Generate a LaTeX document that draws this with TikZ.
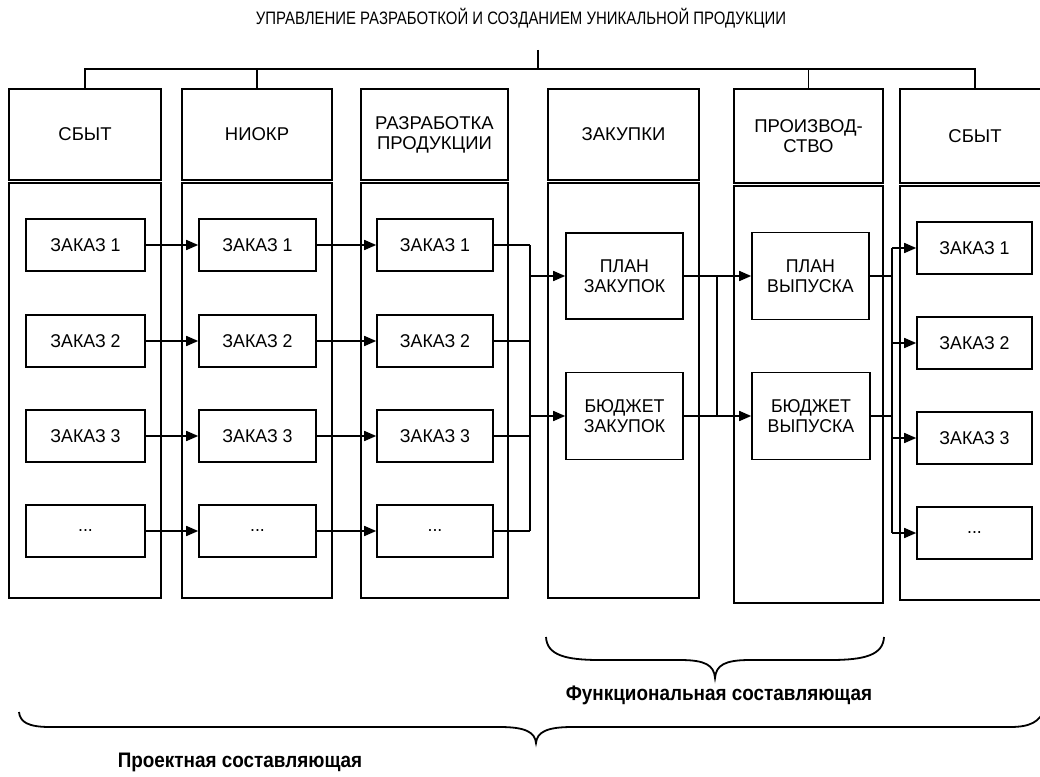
\documentclass[tikz,border=0pt]{standalone}
\usepackage{fontspec}
\setmainfont{Liberation Sans}
\newfontfamily\titlefont[FakeStretch=0.83]{Liberation Sans}
\newfontfamily\boxfont[FakeStretch=0.96]{Liberation Sans}
\newfontfamily\labfont[FakeStretch=0.9]{Liberation Sans}
\usetikzlibrary{arrows.meta}
\newcommand\mydots{...}
\begin{document}
\begin{tikzpicture}[x=1pt,y=-1pt,
  ln/.style={line width=1.6pt},
  colbox/.style={draw, line width=1.6pt, inner sep=0pt, align=center,
    font=\fontsize{18.5}{20}\selectfont},
  box/.style={draw, line width=1.6pt, inner sep=0pt, align=center,
    font=\boxfont\fontsize{18.5}{20}\selectfont},
  arr/.style={line width=1.6pt, -{Triangle[length=12pt,width=10pt]}},
  brace/.style={line width=1.8pt},
  lab/.style={font=\labfont\bfseries\fontsize{21}{22}\selectfont}]
\clip (0,0) rectangle (1040,776);
\fill[white] (0,0) rectangle (1040,776);

% title and bus
\node[font=\titlefont\fontsize{18}{20}\selectfont] (title) at (521,18)
  {УПРАВЛЕНИЕ РАЗРАБОТКОЙ И СОЗДАНИЕМ УНИКАЛЬНОЙ ПРОДУКЦИИ};

% column headers
\node[colbox, minimum width=152, minimum height=91] (h1) at (85,134.5) {СБЫТ};
\node[colbox, minimum width=150, minimum height=91] (h2) at (257,134.5) {НИОКР};
\node[colbox, minimum width=147, minimum height=91] (h3) at (434.5,134.5) {РАЗРАБОТКА\\ПРОДУКЦИИ};
\node[colbox, minimum width=151, minimum height=91] (h4) at (623.5,134.5) {ЗАКУПКИ};
\node[colbox, minimum width=149, minimum height=94] (h5) at (808.5,136) {ПРОИЗВОД-\\СТВО};
\node[colbox, minimum width=150, minimum height=94] (h6) at (975,136) {СБЫТ};

% column bodies
\node[colbox, minimum width=152, minimum height=415] (b1) at (85,390.5) {};
\node[colbox, minimum width=150, minimum height=415] (b2) at (257,390.5) {};
\node[colbox, minimum width=147, minimum height=415] (b3) at (434.5,390.5) {};
\node[colbox, minimum width=151, minimum height=415] (b4) at (623.5,390.5) {};
\node[colbox, minimum width=149, minimum height=417] (b5) at (808.5,394.5) {};
\node[colbox, minimum width=150, minimum height=414] (b6) at (975,393) {};

% bus
\coordinate (top) at (538,50);
\coordinate (bus) at (538,69);
\draw[ln] (top) -- (bus);
\draw[ln] (h1.north) -- (h1.north |- bus) -- (h6.north |- bus) -- (h6.north);
\draw[ln] (h2.north) -- (h2.north |- bus);
\draw[ln] (h5.north) -- (h5.north |- bus);

% order boxes
\foreach \i/\t/\y in {1/ЗАКАЗ 1/245, 2/ЗАКАЗ 2/341, 3/ЗАКАЗ 3/436, 4/\mydots/531}{
  \node[box, minimum width=119, minimum height=52] (a\i) at (85.5,\y) {\t};
  \node[box, minimum width=117, minimum height=52] (n\i) at (257.5,\y) {\t};
  \node[box, minimum width=116, minimum height=52] (r\i) at (435,\y) {\t};
}
\foreach \i/\t/\y in {1/ЗАКАЗ 1/248, 2/ЗАКАЗ 2/343, 3/ЗАКАЗ 3/438, 4/\mydots/533}{
  \node[box, minimum width=115, minimum height=52] (s\i) at (974.5,\y) {\t};
}

% purchasing and production boxes
\node[box, minimum width=117, minimum height=86] (p1) at (624.5,276) {ПЛАН\\ЗАКУПОК};
\node[box, minimum width=117, minimum height=87] (p2) at (624.5,416) {БЮДЖЕТ\\ЗАКУПОК};
\node[box, minimum width=117, minimum height=87] (q1) at (810.5,276) {ПЛАН\\ВЫПУСКА};
\node[box, minimum width=118, minimum height=87] (q2) at (811,416) {БЮДЖЕТ\\ВЫПУСКА};

% arrows between order columns
\foreach \i in {1,2,3,4}{
  \draw[arr] (a\i.east) -- (n\i.west);
  \draw[arr] (n\i.east) -- (r\i.west);
}

% merge into purchasing
\coordinate (m) at (530,0);
\foreach \i in {1,2,3,4}{ \draw[ln] (r\i.east) -- (r\i.east -| m); }
\draw[ln] (r1.east -| m) -- (r4.east -| m);
\draw[arr] (p1.west -| m) -- (p1.west);
\draw[arr] (p2.west -| m) -- (p2.west);

% purchasing to production
\coordinate (k) at (717,0);
\draw[arr] (p1.east) -- (q1.west);
\draw[arr] (p2.east) -- (q2.west);
\draw[ln] (p1.east -| k) -- (p2.east -| k);

% production to sales
\coordinate (o) at (892,0);
\draw[ln] (q1.east) -- (q1.east -| o);
\draw[ln] (q2.east) -- (q2.east -| o);
\draw[ln] (s1.west -| o) -- (s4.west -| o);
\foreach \i in {1,2,3,4}{ \draw[arr] (s\i.west -| o) -- (s\i.west); }

% functional brace
\draw[brace] (546,637) .. controls (547,655) and (565,660) .. (600,660)
  -- (680,660) .. controls (705,660) and (714,665) .. (715,678)
  .. controls (716,665) and (725,660) .. (750,660)
  -- (830,660) .. controls (865,660) and (883,655) .. (884,637);
\node[lab] (func) at (719,695) {Функциональная составляющая};

% project brace
\draw[brace] (19,712) .. controls (20,722) and (28,727) .. (50,727)
  -- (500,727) .. controls (525,727) and (535,732) .. (536,743)
  .. controls (537,732) and (547,727) .. (572,727)
  -- (1010,727) .. controls (1030,727) and (1040,722) .. (1045,708);
\node[lab] (proj) at (240,762) {Проектная составляющая};
\end{tikzpicture}
\end{document}
